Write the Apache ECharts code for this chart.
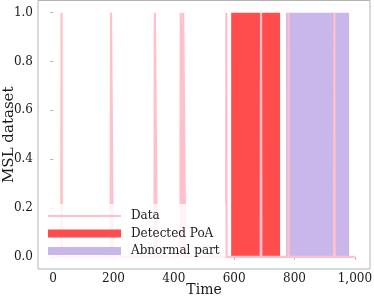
<!DOCTYPE html>
<html>
<head>
<meta charset="utf-8">
<script src="https://cdn.jsdelivr.net/npm/echarts@6/dist/echarts.min.js"></script>
<style>html,body{margin:0;padding:0;background:#fff;}#c{width:374px;height:299px;}</style>
</head>
<body>
<div id="c"></div>
<script>
// Data line: sparse (time, value) points at the transitions
const dataX = [0, 27, 28, 29, 191, 192, 197, 198, 336, 337, 343, 344, 422, 423, 429, 430, 431, 437, 438, 573, 574, 575, 688, 689, 690, 779, 780, 781, 931, 932, 933, 999];
const dataY = [0, 0, 1, 0, 0, 1, 1, 0, 0, 1, 1, 0, 0, 1, 1, 0, 1, 1, 0, 0, 1, 0, 0, 1, 0, 0, 1, 0, 0, 1, 0, 0];
// Regions
const detectedX = [590, 752];
const detectedY = [1, 1];
const abnormalX = [772, 981];
const abnormalY = [1, 1];
// Ticks
const xTicks = [0, 200, 400, 600, 800, 1000];
const yTicks = [0, 0.2, 0.4, 0.6, 0.8, 1.0];
const seriesNames = ['Data', 'Detected PoA', 'Abnormal part'];

const zip = (a, b) => a.map((v, i) => [v, b[i]]);
const FONT = 'DejaVu Serif';
const chart = echarts.init(document.getElementById('c'), null, {renderer: 'canvas'});
chart.setOption({
  animation: false,
  backgroundColor: '#fff',
  grid: {left: 38, top: 0.5, right: 4, bottom: 30, show: true, borderColor: '#b3b3b3', borderWidth: 1,
    containLabel: false, outerBoundsMode: 'none'},
  xAxis: {
    type: 'value', min: -50, max: 1050,
    name: 'Time', nameLocation: 'middle', nameGap: 14, nameMoveOverlap: false,
    nameTextStyle: {fontFamily: FONT, fontSize: 14, color: '#1a1a1a'},
    axisLine: {show: false},
    splitLine: {show: false},
    axisTick: {show: true, length: 3, lineStyle: {color: '#b3b3b3'}, customValues: xTicks},
    axisLabel: {fontFamily: FONT, fontSize: 12, color: '#1a1a1a', margin: 4, customValues: xTicks}
  },
  yAxis: {
    type: 'value', min: -0.05, max: 1.05,
    name: 'MSL dataset', nameLocation: 'middle', nameGap: 21, nameRotate: 90, nameMoveOverlap: false,
    nameTextStyle: {fontFamily: FONT, fontSize: 15, color: '#1a1a1a'},
    axisLine: {show: false},
    splitLine: {show: false},
    axisTick: {show: true, length: 3, lineStyle: {color: '#b3b3b3'}, customValues: yTicks},
    axisLabel: {fontFamily: FONT, fontSize: 12, color: '#1a1a1a', margin: 5, customValues: yTicks,
      formatter: v => v.toFixed(1)}
  },
  legend: {
    orient: 'vertical', left: 43, top: 204,
    padding: [5, 6, 5, 5],
    backgroundColor: 'rgba(255,255,255,0.8)',
    itemWidth: 73, itemHeight: 8, itemGap: 3.5,
    textStyle: {fontFamily: FONT, fontSize: 12, color: '#1a1a1a', lineHeight: 14, padding: [0, 0, 0, 5]},
    data: [
      {name: seriesNames[0], icon: 'path://M0,0H73V2H0Z'},
      {name: seriesNames[1], icon: 'rect'},
      {name: seriesNames[2], icon: 'rect'}
    ]
  },
  series: [
    {
      name: seriesNames[1], type: 'line', data: zip(detectedX, detectedY),
      symbol: 'none', color: '#ff4d4d', z: 1,
      lineStyle: {width: 0}, areaStyle: {color: '#ff4d4d', opacity: 1}
    },
    {
      name: seriesNames[2], type: 'line', data: zip(abnormalX, abnormalY),
      symbol: 'none', color: '#c9b7ec', z: 1,
      lineStyle: {width: 0}, areaStyle: {color: '#c9b7ec', opacity: 1}
    },
    {
      name: seriesNames[0], type: 'line', data: zip(dataX, dataY),
      symbol: 'none', color: '#ffc0cb', z: 2,
      lineStyle: {width: 2.2, color: '#ffc0cb'}
    }
  ]
});
</script>
</body>
</html>
